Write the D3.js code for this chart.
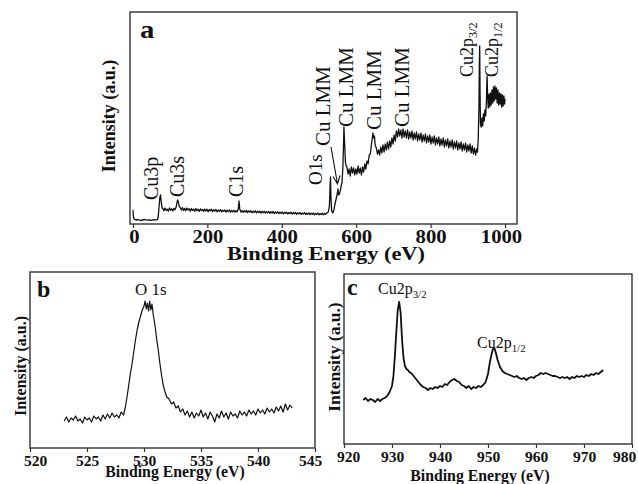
<!DOCTYPE html>
<html>
<head>
<meta charset="utf-8">
<script src="https://cdn.jsdelivr.net/npm/d3@7"></script>
<style>
  body { margin: 0; background: #fff; }
  text { font-family: "Liberation Serif", "Times New Roman", serif; fill: #111; }
</style>
</head>
<body>
<script>
// panel a: XPS survey, [binding energy (eV), intensity (a.u.)]
const surveyData = [
  [0,14],[1,8],[3,5],[8,4],[14,4.5],[20,3.5],[26,4],[32,4.5],[38,3.8],[44,4.2],[50,3.6],[56,4.4],[62,4],[66,4.5],
  [68,8],[70,17],[72,26],[74,29],[76,22],[78,16],
  [80,15.8],[83,13.2],[86,15.9],[89,13.6],[92,14.9],[95,12.9],[98,16.1],[101,13.8],[104,15.2],[107,13.1],[110,15.7],[113,14.2],
  [116,17],[118,21],[120,24],[122,22],[124,18],[127,16.5],
  [130,14.1],[133,16.3],[136,13.5],[139,15.6],[142,13.2],[145,15.9],[148,14.0],[151,15.3],[154,12.8],[157,15.5],[160,13.6],
  [163,14.9],[166,12.7],[169,15.4],[172,13.3],[175,14.8],[178,12.6],[181,15.1],[184,13.4],[187,14.6],[190,12.5],[193,14.9],
  [196,13.0],[199,14.7],[202,12.4],[205,14.5],[208,13.2],[211,14.8],[214,12.3],[217,14.2],[220,12.9],[223,14.6],[226,12.2],
  [229,14.0],[232,12.7],[235,14.4],[238,12.0],[241,13.9],[244,12.6],[247,14.1],[250,11.9],[253,13.7],[256,12.4],[259,14.0],
  [262,11.8],[265,13.6],[268,12.2],[271,13.8],[274,11.7],[277,13.4],[280,12.3],[283,15],[285,23],[287,15],[290,11.9],
  [293,13.5],[296,11.6],[299,13.2],[302,12.0],[305,13.6],[308,11.4],[311,13.1],[314,11.8],[317,13.3],[320,11.2],[323,12.9],
  [326,11.6],[329,13.2],[332,11.1],[335,12.7],[338,11.5],[341,12.9],[344,10.9],[347,12.6],[350,11.3],[353,12.8],[356,10.8],
  [359,12.4],[362,11.2],[365,12.6],[368,10.6],[371,12.2],[374,11.0],[377,12.5],[380,10.5],[383,12.0],[386,10.9],[389,12.3],
  [392,10.3],[395,11.9],[398,10.7],[401,12.1],[404,10.2],[407,11.7],[410,10.6],[413,11.9],[416,10.0],[419,11.5],[422,10.4],
  [425,11.8],[428,9.9],[431,11.4],[434,10.2],[437,11.6],[440,9.7],[443,11.2],[446,10.1],[449,11.4],[452,9.6],[455,11.0],
  [458,9.9],[461,11.3],[464,9.5],[467,10.9],[470,9.8],[473,11.1],[476,9.3],[479,10.8],[482,9.7],[485,11.0],[488,9.2],
  [491,10.6],[494,9.6],[497,10.9],[500,9.1],[503,10.5],[506,9.5],[509,10.8],[512,9.2],[515,10.6],[518,9.8],[521,11],
  [525,12],[528,18],[530,40],[531,47],[532,28],[534,13],[537,11],[540,14],[543,20],[546,25],[549,30],[551,35],[553,29],
  [556,31],[559,37],[562,42],[564,55],[566,80],[567,97],[569,80],[571,62],[573,58],
  [575,57],[578,50],[581,55],[584,48],[587,57],[590,51],[593,56],[596,49],[599,55],[602,50],[605,58],[608,51],[611,56],
  [614,49],[617,57],[620,52],[623,60],[626,55],[629,63],[632,60],[635,69],[638,70],[641,80],[643,85],[645,91],[647,86],
  [649,88],[651,79],[654,76],[657,70],[660,74],[663,69],[666,77],[669,71],[672,79],[675,72],[678,80],[681,74],[684,82],
  [687,75],[690,83],[693,77],[696,86],[699,80],[702,89],[705,83],[708,93],[711,87],[714,95],[717,88],[720,94],[723,86],
  [726,95],[729,87],[732,93],[735,86],[738,94],[741,85],[744,92],[747,86],[750,93],[753,84],[756,91],[759,85],[762,92],
  [765,83],[768,90],[771,84],[774,91],[777,82],[780,89],[783,83],[786,90],[789,81],[792,88],[795,82],[798,89],[801,80],
  [804,87],[807,81],[810,88],[813,79],[816,86],[819,80],[822,87],[825,78],[828,85],[831,79],[834,86],[837,77],[840,84],
  [843,78],[846,85],[849,76],[852,83],[855,77],[858,84],[861,75],[864,82],[867,76],[870,83],[873,74],[876,81],[879,75],
  [882,82],[885,73],[888,80],[891,74],[894,81],[897,72],[900,79],[903,73],[906,80],[909,71],[912,78],[915,70],[918,76],
  [921,69],[924,75],[926,72],[928,84],[930,118],[931,160],[932,178],[933,130],[934,100],[936,97],[938,106],[940,98],
  [942,110],[944,103],[946,114],[948,108],[950,122],[951,138],[952,148],[953,130],[955,116],[957,130],[959,117],[961,131],
  [963,119],[965,134],[967,121],[969,137],[971,123],[973,138],[975,125],[977,136],[979,121],[981,134],[983,119],[985,131],
  [987,120],[989,130],[991,117],[993,129],[995,118],[997,128],[999,120],[1000,125]
];

// panel b: O 1s region
const o1sData = [
  [523.0,27],[523.2,31],[523.4,26],[523.6,30],[523.8,28],[524.0,32],[524.2,27],[524.4,29],[524.6,25],[524.8,31],[525.0,28],
  [525.2,30],[525.4,26],[525.6,32],[525.8,29],[526.0,31],[526.2,27],[526.4,33],[526.6,29],[526.8,34],[527.0,30],[527.2,35],
  [527.4,31],[527.6,33],[527.8,30],[528.0,36],[528.2,33],[528.35,40],[528.5,50],[528.65,62],[528.8,74],[528.95,84],
  [529.1,96],[529.25,108],[529.4,118],[529.55,126],[529.7,132],[529.85,138],[530.0,142],[530.1,147],[530.2,139],
  [530.3,145],[530.4,137],[530.5,147],[530.6,138],[530.7,144],[530.8,134],[530.95,124],[531.1,110],[531.25,98],
  [531.4,84],[531.55,72],[531.7,62],[531.85,56],[532.0,51],[532.2,49],[532.4,44],[532.6,46],[532.8,40],[533.0,42],
  [533.2,36],[533.4,39],[533.6,33],[533.8,37],[534.0,31],[534.2,36],[534.4,30],[534.6,35],[534.8,32],[535.0,38],[535.2,31],
  [535.4,35],[535.6,29],[535.8,36],[536.0,32],[536.2,26],[536.4,34],[536.6,30],[536.8,37],[537.0,31],[537.2,35],[537.4,29],
  [537.6,36],[537.8,32],[538.0,34],[538.2,30],[538.4,37],[538.6,33],[538.8,36],[539.0,32],[539.2,38],[539.4,34],[539.6,37],
  [539.8,33],[540.0,39],[540.2,35],[540.4,38],[540.6,34],[540.8,40],[541.0,36],[541.2,39],[541.4,35],[541.6,41],[541.8,37],
  [542.0,42],[542.2,36],[542.4,44],[542.6,38],[542.8,43],[543.0,40]
];

// panel c: Cu 2p region
const cu2pData = [
  [924,44],[924.5,46],[925,43],[925.5,45],[926,44],[926.5,42],[927,45],[927.5,43],[928,45],[928.5,46],[929,48],[929.5,52],
  [930,58],[930.3,68],[930.6,88],[930.9,112],[931.2,134],[931.5,142],[931.8,131],[932.1,104],[932.4,86],[932.7,78],
  [933,75],[933.3,74],[933.6,72],[934,71],[934.5,68],[935,65],[935.5,62],[936,59],[936.5,57],[937,56],[937.5,54],[938,56],
  [938.5,55],[939,57],[939.5,56],[940,58],[940.5,57],[941,60],[941.5,59],[942,62],[942.5,64],[943,65],[943.5,63],[944,62],
  [944.5,59],[945,58],[945.5,56],[946,58],[946.5,55],[947,57],[947.5,56],[948,58],[948.5,57],[949,59],[949.5,62],[950,70],
  [950.4,82],[950.8,91],[951.1,96],[951.4,95],[951.7,90],[952,84],[952.5,77],[953,73],[953.5,71],[954,70],[954.5,69],
  [955,68],[955.5,67],[956,68],[956.5,66],[957,65],[957.5,66],[958,64],[958.5,66],[959,67],[959.5,66],[960,68],[960.5,69],
  [961,71],[961.5,70],[962,71],[962.5,70],[963,69],[963.5,68],[964,68],[964.5,67],[965,66],[965.5,67],[966,66],[966.5,67],
  [967,65],[967.5,67],[968,66],[968.5,68],[969,67],[969.5,68],[970,67],[970.5,69],[971,68],[971.5,70],[972,69],[972.5,71],
  [973,70],[973.5,72],[974,74]
];

const surveyTicks = [0, 200, 400, 600, 800, 1000];
const o1sTicks = [520, 525, 530, 535, 540, 545];
const cu2pTicks = [920, 930, 940, 950, 960, 970, 980];

const svg = d3.select("body").append("svg").attr("width", 638).attr("height", 484);

function drawPanel(p) {
  const g = svg.append("g");
  const x = d3.scaleLinear().domain(p.xDomain).range(p.xRange || [p.left, p.right]);
  const y = d3.scaleLinear().domain(p.yDomain).range([p.bottom, p.top]);

  g.append("path")
    .datum(p.data)
    .attr("d", d3.line().x(d => x(d[0])).y(d => y(d[1])))
    .attr("fill", "none")
    .attr("stroke", "#111")
    .attr("stroke-width", p.lineWidth)
    .attr("stroke-linejoin", "round");

  const ax = g.append("g")
    .attr("transform", `translate(0,${p.bottom})`)
    .call(d3.axisBottom(x).tickValues(p.ticks).tickSize(4).tickSizeOuter(0).tickFormat(d3.format("d")));
  ax.select(".domain").remove();
  ax.selectAll("line").attr("stroke", "#333").attr("stroke-width", 1.2);
  const n = p.ticks.length;
  ax.selectAll("text")
    .attr("y", null).attr("dy", null)
    .attr("font-size", p.tickFont).attr("font-weight", "bold")
    .attr("transform", (d, i) => {
      const dx = i === 0 ? p.firstShift : i === n - 1 ? p.lastShift : 0;
      return `translate(${dx},${p.tickBase}) scale(${p.sx},1)`;
    });

  g.append("rect")
    .attr("x", p.left).attr("y", p.top)
    .attr("width", p.right - p.left).attr("height", p.bottom - p.top)
    .attr("fill", "none").attr("stroke", "#333").attr("stroke-width", 1.4);

  g.append("text")
    .attr("text-anchor", "middle").attr("font-weight", "bold").attr("font-size", p.titleFont)
    .attr("transform", `translate(${p.titleX},${p.titleY}) scale(${p.sx},1)`)
    .text("Binding Energy (eV)");
  g.append("text")
    .attr("text-anchor", "middle").attr("font-weight", "bold").attr("font-size", p.yFont)
    .attr("transform", `translate(${p.yTitleX},${p.yTitleY}) rotate(-90)`)
    .text("Intensity (a.u.)");
  g.append("text")
    .attr("font-weight", "bold").attr("font-size", p.letterFont)
    .attr("transform", `translate(${p.letterX},${p.letterY}) scale(${p.sx},1)`)
    .text(p.letter);
  return { g, x, y };
}

// peak label with optional subscript
function peakLabel(g, main, sub, tx, ty, size, rotated) {
  const t = g.append("text")
    .attr("font-size", size)
    .attr("transform", `translate(${tx},${ty})` + (rotated ? " rotate(-90)" : ""));
  t.append("tspan").text(main);
  if (sub) t.append("tspan").attr("font-size", size * 0.68).attr("dy", size * 0.22).text(sub);
  return t;
}

// ---- panel a ----
const a = drawPanel({
  data: surveyData, xDomain: [0, 1000], xRange: [133, 505], yDomain: [0, 212],
  left: 130, right: 517, top: 12, bottom: 224, lineWidth: 1.3,
  ticks: surveyTicks, tickFont: 18, tickBase: 19, sx: 1.15, firstShift: 1, lastShift: -4,
  titleFont: 19.5, titleX: 326, titleY: 260,
  yFont: 18, yTitleX: 115, yTitleY: 116,
  letter: "a", letterFont: 25, letterX: 140, letterY: 38
});
peakLabel(a.g, "Cu3p", null, 158, 200, 20, true);
peakLabel(a.g, "Cu3s", null, 184, 197, 20, true);
peakLabel(a.g, "C1s", null, 243, 197, 20, true);
peakLabel(a.g, "O1s", null, 322, 185, 19, true);
peakLabel(a.g, "Cu LMM", null, 330, 146, 21, true);
peakLabel(a.g, "Cu LMM", null, 353, 127, 21, true);
peakLabel(a.g, "Cu LMM", null, 381, 130, 21, true);
peakLabel(a.g, "Cu LMM", null, 409, 127, 21, true);
peakLabel(a.g, "Cu2p", "3/2", 473, 77, 18, true);
peakLabel(a.g, "Cu2p", "1/2", 498, 77, 18, true);
a.g.append("path")
  .attr("d", "M331,147 L337.5,184 M333,176.5 L337.5,184 L340,175.5")
  .attr("fill", "none").attr("stroke", "#111").attr("stroke-width", 1.1);

// ---- panel b ----
const b = drawPanel({
  data: o1sData, xDomain: [520, 545], yDomain: [0, 176],
  left: 30, right: 315, top: 272, bottom: 448, lineWidth: 1.2,
  ticks: o1sTicks, tickFont: 15.5, tickBase: 18, sx: 1, firstShift: 5, lastShift: -5,
  titleFont: 15.8, titleX: 175, titleY: 477,
  yFont: 16, yTitleX: 26, yTitleY: 366,
  letter: "b", letterFont: 24, letterX: 37, letterY: 297
});
peakLabel(b.g, "O 1s", null, 135, 295, 17, false);

// ---- panel c ----
const c = drawPanel({
  data: cu2pData, xDomain: [920, 980], yDomain: [0, 170],
  left: 344, right: 632, top: 274, bottom: 444, lineWidth: 1.8,
  ticks: cu2pTicks, tickFont: 15.5, tickBase: 18, sx: 1, firstShift: 4, lastShift: -8,
  titleFont: 15.8, titleX: 480, titleY: 481,
  yFont: 17.5, yTitleX: 340, yTitleY: 357,
  letter: "c", letterFont: 24, letterX: 347, letterY: 295
});
peakLabel(c.g, "Cu2p", "3/2", 378, 294, 16, false);
peakLabel(c.g, "Cu2p", "1/2", 477, 348, 16, false);
</script>
</body>
</html>
